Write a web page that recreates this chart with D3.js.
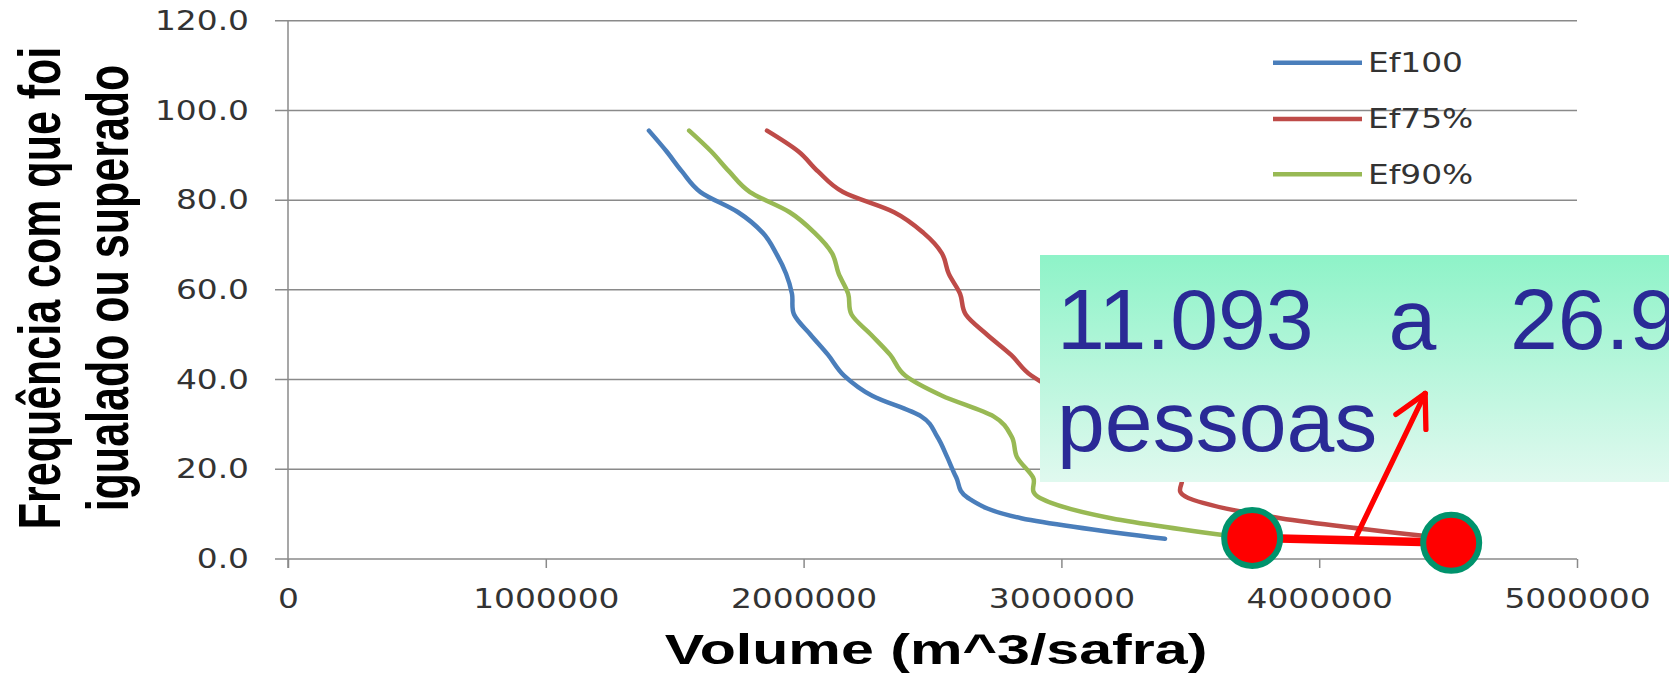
<!DOCTYPE html>
<html><head><meta charset="utf-8">
<script src="https://cdn.jsdelivr.net/npm/d3@7"></script>
<style>html,body{margin:0;padding:0;background:#fff;overflow:hidden}</style>
</head><body>
<svg id="chart" width="1669" height="674"></svg>
<script>
// ---- data ----
const freqLevels = [95.5, 90.9, 86.4, 81.8, 77.3, 72.7, 68.2, 63.6, 59.1, 54.5, 50.0, 45.5, 40.9, 36.4, 31.8, 27.3, 22.7, 18.2, 13.6, 9.1, 4.5];
const ef100 = [1400000,1468000,1528000,1600000,1746000,1842000,1893000,1932000,1955000,1963000,2027000,2095000,2157000,2266000,2456000,2518000,2557000,2592000,2638000,2844000,3402000];
const ef75  = [1858000,1979000,2056000,2153000,2351000,2465000,2536000,2563000,2607000,2629000,2712000,2805000,2883000,3030000,3260000,3350000,3390000,3465000,3492000,3849000,4512000];
const ef90  = [1556000,1641000,1711000,1792000,1946000,2043000,2110000,2136000,2173000,2186000,2262000,2336000,2394000,2537000,2737000,2807000,2828000,2890000,2917000,3193000,3740000];
const seriesNames = ["Ef100", "Ef75%", "Ef90%"];
const seriesValues = [ef100, ef75, ef90];
const seriesColors = ["#4a7ebb", "#be4b48", "#98b954"];
const yTicks = [0, 20, 40, 60, 80, 100, 120];
const xTicks = [0, 1000000, 2000000, 3000000, 4000000, 5000000];
const xTitle = "Volume (m^3/safra)";
const yTitleLines = ["Frequência com que foi", "igualado ou superado"];
const noteLine1 = ["11.093", "a", "26.9"];
const noteLine2 = ["pessoas"];
const markerVol = [3740000, 4512000];
const markerFreq = [4.7, 3.6];
const arrowBase = [4146000, 5.3];
const arrowTip = [4411000, 36.9];

// ---- layout ----
const svg = d3.select("#chart");
svg.append("rect").attr("width", 1669).attr("height", 674).attr("fill", "#fff");
const x = d3.scaleLinear().domain([0, 5000000]).range([288, 1577]);
const y = d3.scaleLinear().domain([0, 120]).range([559, 20.7]);
const gridColor = "#8a8a8a";
const tickFont = "'DejaVu Sans', Verdana, sans-serif";
const sx = 1.24;

// gridlines
svg.append("g").selectAll("line").data(yTicks).join("line")
  .attr("x1", x.range()[0] - 13).attr("x2", x.range()[1])
  .attr("y1", d => y(d)).attr("y2", d => y(d))
  .attr("stroke", gridColor).attr("stroke-width", 1.5);

// y axis line
svg.append("line").attr("x1", x(0)).attr("x2", x(0))
  .attr("y1", y(120)).attr("y2", y(0) + 9)
  .attr("stroke", gridColor).attr("stroke-width", 1.5);

// y axis labels
const yAxis = svg.append("g").attr("transform", `translate(${x(0)},0)`)
  .call(d3.axisLeft(y).tickValues(yTicks).tickSize(0).tickFormat(d3.format(".1f")));
yAxis.select(".domain").remove();
yAxis.selectAll("text")
  .attr("x", null).attr("dy", null)
  .attr("transform", `translate(-39,8.6) scale(${sx},1)`)
  .attr("font-family", tickFont).attr("font-size", 26.5).attr("fill", "#333");

// x axis
const xAxis = svg.append("g").attr("transform", `translate(0,${y(0)})`)
  .call(d3.axisBottom(x).tickValues(xTicks).tickSize(9).tickFormat(d3.format("d")));
xAxis.select(".domain").remove();
xAxis.selectAll("line").attr("stroke", gridColor).attr("stroke-width", 1.5);
xAxis.selectAll("text")
  .attr("y", null).attr("dy", null)
  .attr("transform", `translate(0,49) scale(${sx},1)`)
  .attr("font-family", tickFont).attr("font-size", 26.5).attr("fill", "#333");

// axis titles
svg.append("text")
  .attr("transform", `translate(936,663.5) scale(1.375,1)`)
  .attr("text-anchor", "middle")
  .attr("font-family", "'Liberation Sans', Arial, sans-serif").attr("font-weight", "bold")
  .attr("font-size", 43).attr("fill", "#000").text(xTitle);
const yTitleX = [59.5, 128];
yTitleLines.forEach((t, i) => {
  svg.append("text")
    .attr("transform", `translate(${yTitleX[i]},288) scale(1.37,1) rotate(-90)`)
    .attr("text-anchor", "middle")
    .attr("font-family", "'Liberation Sans', Arial, sans-serif").attr("font-weight", "bold")
    .attr("font-size", 43).attr("fill", "#000").text(t);
});

// curves
const line = d3.line().x(d => x(d[0])).y(d => y(d[1])).curve(d3.curveCardinal.tension(0));
seriesValues.forEach((vals, i) => {
  svg.append("path")
    .datum(vals.map((v, k) => [v, freqLevels[k]]))
    .attr("d", line).attr("fill", "none")
    .attr("stroke", seriesColors[i]).attr("stroke-width", 4.5)
    .attr("stroke-linejoin", "round").attr("stroke-linecap", "round");
});

// legend
const legY = [62.7, 119, 174.3];
seriesNames.forEach((n, i) => {
  svg.append("line").attr("x1", 1273).attr("x2", 1362)
    .attr("y1", legY[i]).attr("y2", legY[i])
    .attr("stroke", seriesColors[i]).attr("stroke-width", 4.5);
  svg.append("text")
    .attr("transform", `translate(1368,${legY[i] + 9.4}) scale(${sx},1)`)
    .attr("font-family", tickFont).attr("font-size", 26.5).attr("fill", "#333").text(n);
});

// annotation box
const defs = svg.append("defs");
const grad = defs.append("linearGradient").attr("id", "noteGrad")
  .attr("x1", 0).attr("y1", 0).attr("x2", 0).attr("y2", 1);
grad.append("stop").attr("offset", "0%").attr("stop-color", "#8ef3c8");
grad.append("stop").attr("offset", "100%").attr("stop-color", "#e0f9ef");
svg.append("rect").attr("x", 1040).attr("y", 255).attr("width", 640).attr("height", 227)
  .attr("fill", "url(#noteGrad)");
const noteFont = "'Liberation Sans', Arial, sans-serif";
const noteColor = "#2a2a96";
const l1x = [1057, 1388.5, 1510];
noteLine1.forEach((w, i) => {
  svg.append("text").attr("x", l1x[i]).attr("y", 349.3)
    .attr("font-family", noteFont).attr("font-size", 86).attr("fill", noteColor).text(w);
});
noteLine2.forEach(w => {
  svg.append("text").attr("x", 1057).attr("y", 450.7)
    .attr("font-family", noteFont).attr("font-size", 86).attr("fill", noteColor).text(w);
});

// red connector + arrow
const red = "#ff0000";
svg.append("line")
  .attr("x1", x(markerVol[0])).attr("y1", y(markerFreq[0]))
  .attr("x2", x(markerVol[1])).attr("y2", y(markerFreq[1]))
  .attr("stroke", red).attr("stroke-width", 8.5);
const bx = x(arrowBase[0]), by = y(arrowBase[1]), tx = x(arrowTip[0]), ty = y(arrowTip[1]);
svg.append("line").attr("x1", bx).attr("y1", by).attr("x2", tx).attr("y2", ty)
  .attr("stroke", red).attr("stroke-width", 5.3).attr("stroke-linecap", "round");
const ang = Math.atan2(by - ty, bx - tx);
[-0.47, 0.5].forEach(da => {
  svg.append("line").attr("x1", tx).attr("y1", ty)
    .attr("x2", tx + 36 * Math.cos(ang + da)).attr("y2", ty + 36 * Math.sin(ang + da))
    .attr("stroke", red).attr("stroke-width", 5.3).attr("stroke-linecap", "round");
});
svg.append("g").selectAll("circle").data(markerVol).join("circle")
  .attr("cx", d => x(d)).attr("cy", (d, i) => y(markerFreq[i]))
  .attr("r", 28).attr("fill", red).attr("stroke", "#00936c").attr("stroke-width", 6);
</script>
</body></html>
